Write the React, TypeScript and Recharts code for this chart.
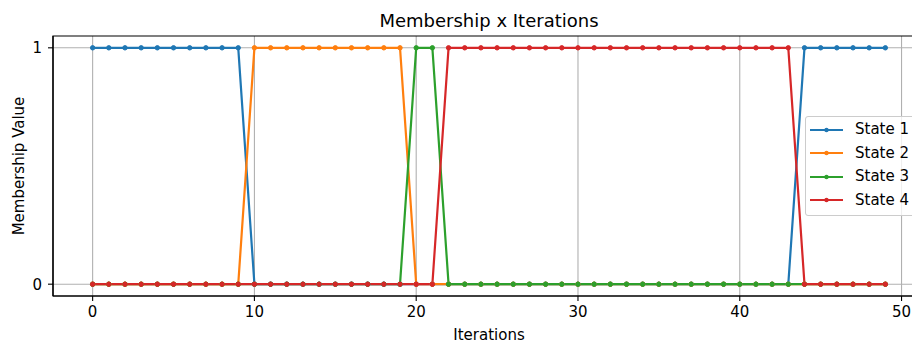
import React from 'react';
import {
  LineChart,
  Line,
  XAxis,
  YAxis,
  CartesianGrid,
  Legend,
  ReferenceArea,
  Label,
} from 'recharts';

const FONT = '"DejaVu Sans", Verdana, sans-serif';

// membership of each iteration in each state (one value per iteration)
const state1 = [
  1, 1, 1, 1, 1, 1, 1, 1, 1, 1,
  0, 0, 0, 0, 0, 0, 0, 0, 0, 0,
  0, 0, 0, 0, 0, 0, 0, 0, 0, 0,
  0, 0, 0, 0, 0, 0, 0, 0, 0, 0,
  0, 0, 0, 0, 1, 1, 1, 1, 1, 1,
];
const state2 = [
  0, 0, 0, 0, 0, 0, 0, 0, 0, 0,
  1, 1, 1, 1, 1, 1, 1, 1, 1, 1,
  0, 0, 0, 0, 0, 0, 0, 0, 0, 0,
  0, 0, 0, 0, 0, 0, 0, 0, 0, 0,
  0, 0, 0, 0, 0, 0, 0, 0, 0, 0,
];
const state3 = [
  0, 0, 0, 0, 0, 0, 0, 0, 0, 0,
  0, 0, 0, 0, 0, 0, 0, 0, 0, 0,
  1, 1, 0, 0, 0, 0, 0, 0, 0, 0,
  0, 0, 0, 0, 0, 0, 0, 0, 0, 0,
  0, 0, 0, 0, 0, 0, 0, 0, 0, 0,
];
const state4 = [
  0, 0, 0, 0, 0, 0, 0, 0, 0, 0,
  0, 0, 0, 0, 0, 0, 0, 0, 0, 0,
  0, 0, 1, 1, 1, 1, 1, 1, 1, 1,
  1, 1, 1, 1, 1, 1, 1, 1, 1, 1,
  1, 1, 1, 1, 0, 0, 0, 0, 0, 0,
];

const seriesNames = ['State 1', 'State 2', 'State 3', 'State 4'];
const seriesColors = ['#1f77b4', '#ff7f0e', '#2ca02c', '#d62728'];
const seriesValues = [state1, state2, state3, state4];

const xTicks = [0, 10, 20, 30, 40, 50];
const yTicks = [0, 1];

// matplotlib-style 5% padding around the data range
const X_DOMAIN: [number, number] = [-2.45, 51.45];
const Y_DOMAIN: [number, number] = [-0.05, 1.05];

const rows = state1.map((_, i) => {
  const row: Record<string, number> = { iteration: i };
  seriesNames.forEach((name, s) => {
    row[name] = seriesValues[s][i];
  });
  return row;
});

const LegendBox = () => (
  <div
    style={{
      border: '1px solid #cccccc',
      borderRadius: 3,
      background: 'rgba(255,255,255,0.8)',
      padding: '1px 6px 3px 4px',
      fontFamily: FONT,
      fontSize: 15,
      color: '#000',
      whiteSpace: 'nowrap',
    }}
  >
    {seriesNames.map((name, i) => (
      <div key={name} style={{ display: 'flex', alignItems: 'center', height: 23.5 }}>
        <svg width={33} height={8} style={{ display: 'block' }}>
          <line x1={0} x2={33} y1={4} y2={4} stroke={seriesColors[i]} strokeWidth={2.2} />
          <circle cx={16.5} cy={4} r={2.2} fill={seriesColors[i]} />
        </svg>
        <span style={{ marginLeft: 12, lineHeight: '15px' }}>{name}</span>
      </div>
    ))}
  </div>
);

export default function App() {
  return (
    <div
      style={{
        position: 'absolute',
        left: 0,
        top: 0,
        width: 912,
        height: 344,
        overflow: 'hidden',
        background: '#fff',
      }}
    >
      <div
        style={{
          position: 'absolute',
          top: 10,
          left: 289,
          width: 400,
          textAlign: 'center',
          fontFamily: FONT,
          fontSize: 18,
          color: '#000',
          zIndex: 2,
        }}
      >
        Membership x Iterations
      </div>
      <LineChart
        width={940}
        height={344}
        data={rows}
        margin={{ top: 36, right: 15, bottom: 0, left: 0 }}
      >
        <CartesianGrid
          stroke="#b0b0b0"
          strokeWidth={1.1}
          horizontalValues={yTicks}
          verticalValues={xTicks}
        />
        <XAxis
          dataKey="iteration"
          type="number"
          domain={X_DOMAIN}
          allowDataOverflow
          ticks={xTicks}
          interval={0}
          height={48}
          tickSize={5}
          tickMargin={5}
          stroke="#000"
          axisLine={{ stroke: '#000', strokeWidth: 1.2 }}
          tickLine={{ stroke: '#000', strokeWidth: 1.1 }}
          tick={{ fill: '#000', fontSize: 15, fontFamily: FONT }}
        >
          <Label
            content={({ viewBox }: any) => (
              <text
                x={viewBox.x + viewBox.width / 2}
                y={340}
                textAnchor="middle"
                fontSize={15}
                fontFamily={FONT}
                fill="#000"
              >
                Iterations
              </text>
            )}
          />
        </XAxis>
        <YAxis
          type="number"
          domain={Y_DOMAIN}
          allowDataOverflow
          ticks={yTicks}
          interval={0}
          width={53}
          tickSize={5}
          tickMargin={6}
          stroke="#000"
          axisLine={{ stroke: '#000', strokeWidth: 1.2 }}
          tickLine={{ stroke: '#000', strokeWidth: 1.1 }}
          tick={{ fill: '#000', fontSize: 15, fontFamily: FONT }}
        >
          <Label
            content={({ viewBox }: any) => {
              const cy = viewBox.y + viewBox.height / 2;
              return (
                <text
                  x={24}
                  y={cy}
                  transform={`rotate(-90, 24, ${cy})`}
                  textAnchor="middle"
                  fontSize={15}
                  fontFamily={FONT}
                  fill="#000"
                >
                  Membership Value
                </text>
              );
            }}
          />
        </YAxis>
        {/* axes frame (top and right spines) */}
        <ReferenceArea
          x1={X_DOMAIN[0]}
          x2={X_DOMAIN[1]}
          y1={Y_DOMAIN[0]}
          y2={Y_DOMAIN[1]}
          fill="none"
          stroke="#000"
          strokeWidth={1.2}
          fillOpacity={0}
        />
        {seriesNames.map((name, i) => (
          <Line
            key={name}
            type="linear"
            dataKey={name}
            stroke={seriesColors[i]}
            strokeWidth={2.2}
            dot={{ r: 2.2, fill: seriesColors[i], stroke: seriesColors[i], strokeWidth: 1 }}
            activeDot={false}
            isAnimationActive={false}
          />
        ))}
        <Legend
          layout="horizontal"
          align="center"
          verticalAlign="middle"
          content={() => <LegendBox />}
          wrapperStyle={{ left: 805, top: 116, width: 'auto', zIndex: 3 }}
        />
      </LineChart>
    </div>
  );
}
